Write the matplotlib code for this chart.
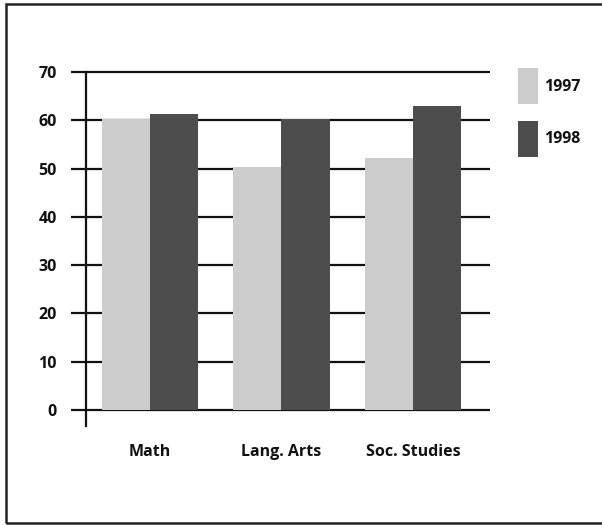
import matplotlib
matplotlib.use("Agg")
import matplotlib.pyplot as plt
from matplotlib.patches import Rectangle
import numpy as np

categories = ["Math", "Lang. Arts", "Soc. Studies"]
series_names = ["1997", "1998"]
values_1997 = [60.2, 50.4, 52.2]
values_1998 = [61.3, 60.2, 63.0]
yticks = [0, 10, 20, 30, 40, 50, 60, 70]

plt.rcParams['font.family'] = ['Open Sans', 'DejaVu Sans']
plt.rcParams['font.weight'] = 'bold'

W, H = 602, 525
fig = plt.figure(figsize=(W / 100, H / 100), dpi=100)

# axes placement in pixels
left_px, right_px = 71, 490
top_px, bot_px = 67.2, 425.5
ax = fig.add_axes([left_px / W, 1 - bot_px / H, (right_px - left_px) / W, (bot_px - top_px) / H])

x = np.arange(len(categories))
bw = 0.368
c1, c2 = "#cccccc", "#4d4d4d"
ax.bar(x - bw / 2, values_1997, bw, color=c1, zorder=3, label=series_names[0])
ax.bar(x + bw / 2, values_1998, bw, color=c2, zorder=3, label=series_names[1])

ax.set_xlim(-0.60, 2.585)
ax.set_ylim(-3.2, 71)

for yv in yticks:
    ax.axhline(yv, color="#111111", lw=1.6, zorder=1)

for s in ["top", "right", "bottom"]:
    ax.spines[s].set_visible(False)
ax.spines["left"].set_position(("data", -0.487))
ax.spines["left"].set_bounds(-3.2, 70)
ax.spines["left"].set_linewidth(1.6)
ax.spines["left"].set_color("#111111")
ax.spines["left"].set_zorder(2)

ax.set_yticks(yticks)
ax.set_yticklabels([str(v) for v in yticks], fontsize=11.5, fontweight="bold", color="#111111")
ax.tick_params(axis="y", length=0, pad=21)
ax.set_xticks(x)
ax.set_xticklabels(categories, fontsize=11.5, fontweight="bold", color="#111111")
ax.tick_params(axis="x", length=0, pad=13)
ax.patch.set_alpha(0)

fs = 11.5
fpx = fs * 100 / 72
leg = fig.legend(loc="upper left", bbox_to_anchor=(518 / W, 1 - 68 / H),
                 bbox_transform=fig.transFigure, frameon=False, borderpad=0,
                 borderaxespad=0, handlelength=20 / fpx, handleheight=49 / fpx,
                 labelspacing=17 / fpx, handletextpad=6 / fpx,
                 prop={"size": fs, "weight": "bold"})
for t in leg.get_texts():
    t.set_color("#111111")

fig.patches.append(Rectangle((6 / W, 1 - 522.5 / H), (610 - 6) / W, (522.5 - 3.5) / H,
                             transform=fig.transFigure, fill=False,
                             edgecolor="#222222", lw=1.8, figure=fig))

fig.savefig("out.png", dpi=100)
